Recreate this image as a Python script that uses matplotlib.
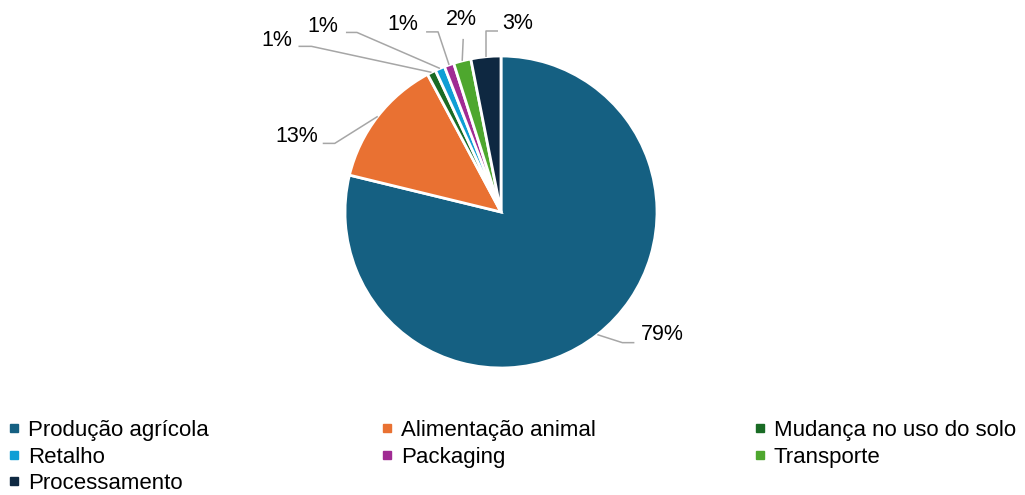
import matplotlib
matplotlib.use("Agg")
import matplotlib.pyplot as plt
from matplotlib.lines import Line2D
import numpy as np

categories = ["Produção agrícola", "Alimentação animal", "Mudança no uso do solo",
              "Retalho", "Packaging", "Transporte", "Processamento"]
values = [78.8, 13.4, 0.9, 1.0, 1.0, 1.8, 3.1]
labels = ["79%", "13%", "1%", "1%", "1%", "2%", "3%"]
colors = ["#156082", "#E97132", "#196B24", "#0F9ED5", "#A02B93", "#4EA72E", "#0E2841"]

W, H = 1025, 495
R = 156.0           # pie radius in px
CX, CY = 501, 212   # pie center in px (from top)

fig = plt.figure(figsize=(W / 100, H / 100), dpi=100)
ax = fig.add_axes([0, 0, 1, 1])
ax.pie(values, colors=colors, startangle=90, counterclock=False, radius=1,
       center=(0, 0), wedgeprops=dict(edgecolor="white", linewidth=2))
ax.set_xlim(-CX / R, (W - CX) / R)
ax.set_ylim(-(H - CY) / R, CY / R)
ax.set_aspect("auto")
ax.axis("off")

# leader-line geometry (pixel offsets from wedge anchor; y downward)
leaders = [
    ([(25, 8), (37, 8)], (43, 0), "left", "center"),
    ([(-43, 27), (-55, 27)], (-60, 20), "right", "center"),
    ([(-120, -26), (-133, -26)], (-139, -32), "right", "center"),
    ([(-83, -36), (-94, -36)], (-102, -42), "right", "center"),
    ([(-11, -33), (-23, -33)], (-46, -40), "center", "center"),
    ([(1, -22)], (-1, -41), "center", "center"),
    ([(0, -26), (12, -26)], (16, -33), "left", "center"),
]

wedges = [p for p in ax.patches]
for w, lab, (pts, toff, ha, va) in zip(wedges, labels, leaders):
    th = np.deg2rad((w.theta1 + w.theta2) / 2)
    ax_, ay_ = np.cos(th), np.sin(th)
    xs = [ax_] + [ax_ + dx / R for dx, dy in pts]
    ys = [ay_] + [ay_ - dy / R for dx, dy in pts]
    ax.add_line(Line2D(xs, ys, color="#A6A6A6", lw=1.1, solid_capstyle="butt"))
    ax.text(ax_ + toff[0] / R, ay_ - toff[1] / R, lab, ha=ha, va=va,
            fontsize=15.5, family="Liberation Sans", color="#000000")

handles = [Line2D([], [], marker="s", linestyle="none", markersize=5.5,
                  markerfacecolor=c, markeredgecolor=c) for c in colors]
columns = [[0, 3, 6], [1, 4], [2, 5]]
col_x = [14, 387, 760]
fs = 16
for idx, xc in zip(columns, col_x):
    fig.legend([handles[i] for i in idx], [categories[i] for i in idx],
               loc="upper left", bbox_to_anchor=((xc - 6.7) / W, 1 - 420 / H),
               frameon=False, handlelength=0.6, handletextpad=0.33,
               labelspacing=0.25, borderpad=0, borderaxespad=0,
               prop={"family": "Liberation Sans", "size": fs})

fig.savefig("out.png", dpi=100)
